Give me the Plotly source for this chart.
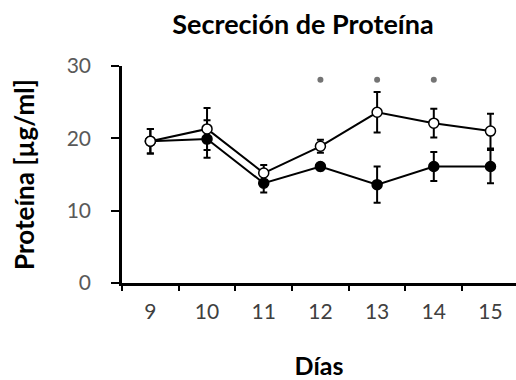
import plotly.graph_objects as go

# Días de cultivo (eje X categórico)
dias = ["9", "10", "11", "12", "13", "14", "15"]

# Serie de círculos blancos: media y error
proteina_abierto = [19.6, 21.3, 15.2, 18.9, 23.6, 22.1, 21.0]
error_abierto = [1.7, 2.9, 1.1, 0.9, 2.8, 2.0, 2.4]

# Serie de círculos negros: media y error
proteina_lleno = [19.6, 19.9, 13.8, 16.1, 13.6, 16.1, 16.1]
error_lleno = [1.7, 2.6, 1.3, 0.5, 2.5, 2.0, 2.3]

# Días con diferencia significativa y altura de la marca
dias_signif = ["12", "13", "14"]
altura_signif = [28.1, 28.1, 28.1]

FONT = "Lato"

fig = go.Figure()

fig.add_trace(go.Scatter(
    x=dias, y=proteina_lleno, mode="lines+markers",
    line=dict(color="black", width=2),
    marker=dict(symbol="circle", size=10, color="black",
                line=dict(color="black", width=1.5)),
    error_y=dict(type="data", array=error_lleno, color="black",
                 thickness=2, width=3.5),
    showlegend=False,
))

fig.add_trace(go.Scatter(
    x=dias, y=proteina_abierto, mode="lines+markers",
    line=dict(color="black", width=2),
    marker=dict(symbol="circle", size=10, color="white",
                line=dict(color="black", width=1.5)),
    error_y=dict(type="data", array=error_abierto, color="black",
                 thickness=2, width=3.5),
    showlegend=False,
))

# Marcas de significancia (puntos grises)
fig.add_trace(go.Scatter(
    x=dias_signif, y=altura_signif, mode="markers",
    marker=dict(symbol="circle", size=6, color="#5c5c5c", opacity=0.85,
                line=dict(width=0)),
    showlegend=False,
))

fig.update_layout(
    width=516, height=380,
    margin=dict(l=122, r=0, t=66, b=97),
    paper_bgcolor="white", plot_bgcolor="white",
    title=dict(text="<b>Secreción de Proteína</b>",
               font=dict(family=FONT, size=27, color="black"),
               x=303 / 516, xanchor="center", xref="container",
               y=1 - 25 / 380, yanchor="middle", yref="container"),
    font=dict(family=FONT),
)

fig.update_xaxes(
    type="category", range=[-0.5, 6.45],
    tickson="boundaries", ticks="outside", ticklen=5, tickwidth=2,
    tickcolor="black",
    showline=True, linecolor="black", linewidth=2.5,
    showgrid=False, zeroline=False,
    tickfont=dict(family=FONT, size=21, color="#404040"),
    ticklabelstandoff=8,
    title=dict(text="<b>Días</b>", font=dict(family=FONT, size=25, color="black"),
               standoff=36),
)

fig.update_yaxes(
    range=[0, 30], tickvals=[0, 10, 20, 30],
    ticks="outside", ticklen=8, tickwidth=2, tickcolor="black",
    showline=True, linecolor="black", linewidth=2.5,
    showgrid=False, zeroline=False,
    tickfont=dict(family=FONT, size=21, color="#595959"),
    ticklabelstandoff=16,
    title=dict(text="<b>Proteína [µg/ml]</b>",
               font=dict(family=FONT, size=26, color="black"),
               standoff=25),
)

fig.write_html("out.html")
